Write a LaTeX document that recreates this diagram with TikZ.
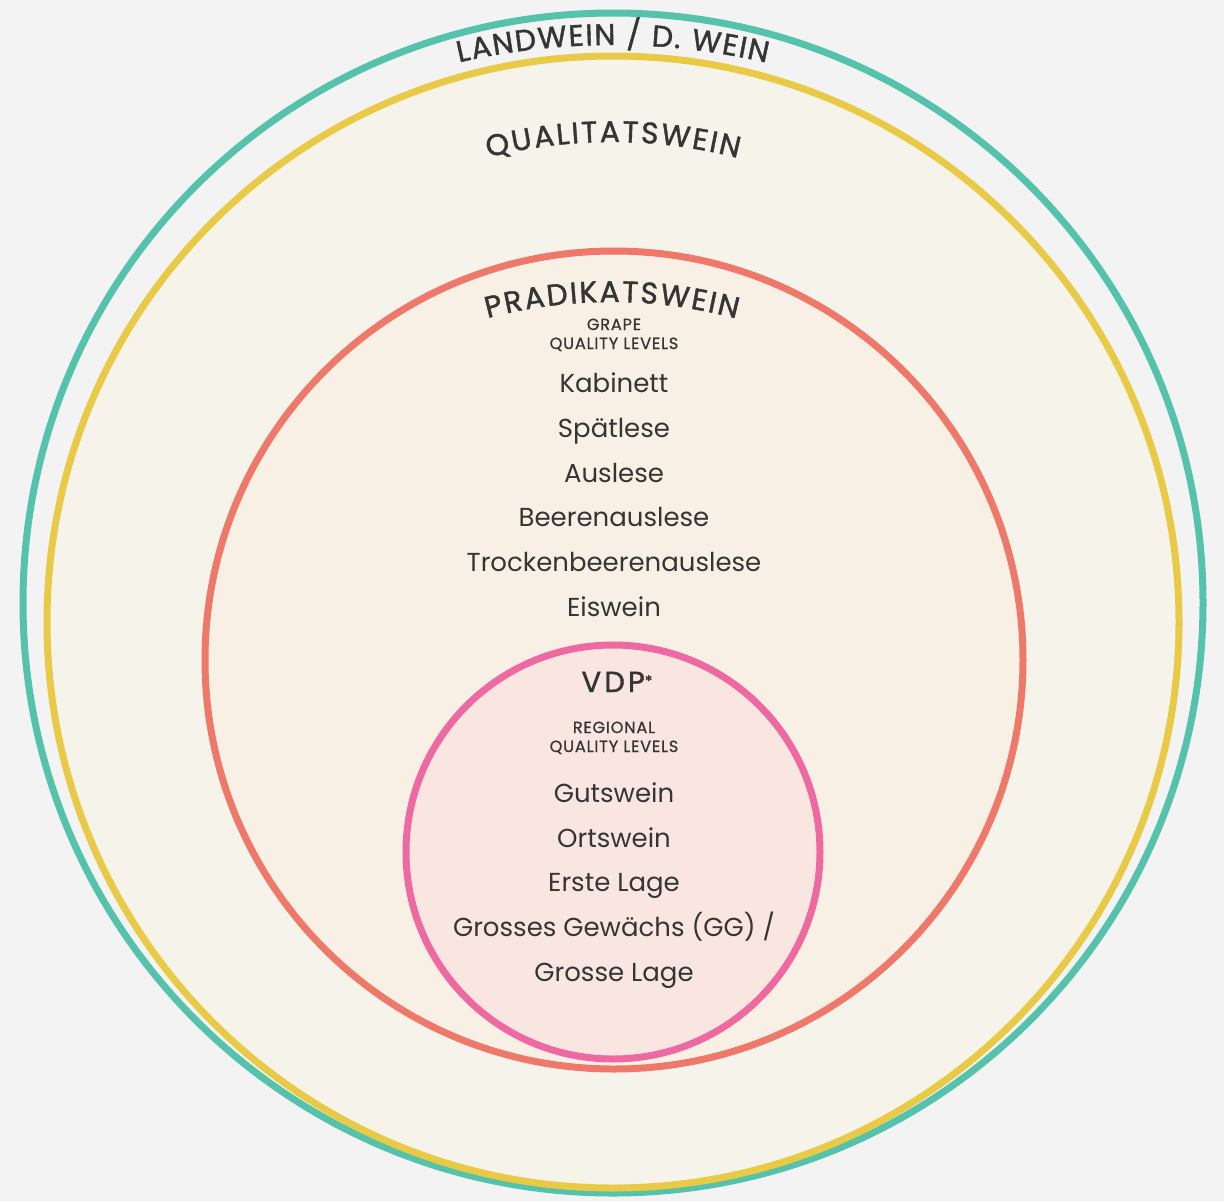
\documentclass[tikz,border=0pt]{standalone}
\usepackage{fontspec}
\setmainfont{Poppins}
\newfontfamily\titlefont[FakeBold=1.3]{Poppins}
\newfontfamily\tagfont[LetterSpace=5,FakeBold=0.8]{Poppins}
\usetikzlibrary{decorations.text}
\definecolor{bggray}{HTML}{F3F3F3}
\definecolor{ringteal}{HTML}{55C2AC}
\definecolor{ringyellow}{HTML}{E8CA46}
\definecolor{ringred}{HTML}{EE786A}
\definecolor{ringpink}{HTML}{EE69A1}
\definecolor{fillcream}{HTML}{F6F4EA}
\definecolor{fillpeach}{HTML}{F8F0E4}
\definecolor{fillrose}{HTML}{F9E6E0}
\definecolor{txtgray}{HTML}{353535}

\begin{document}
\begin{tikzpicture}[x=0.02cm, y=0.02cm]
	\tikzstyle{every node}=[align=center, inner sep=1pt, text=txtgray, anchor=base]
	\tikzstyle{ring}=[line width=0.14cm]
	\tikzstyle{level}=[font=\fontsize{14.8}{17}\selectfont]
	\tikzstyle{tag}=[font=\tagfont\fontsize{9.2}{10.8}\selectfont]
	\tikzstyle{arctitle}=[decorate, decoration={text along path, text align=center, text color=txtgray}]

	\useasboundingbox[fill=bggray] (0,0) rectangle (1224,-1201);

	\draw[ring, draw=ringteal] (613,-603) circle (590);
	\filldraw[ring, draw=ringyellow, fill=fillcream] (613,-622) circle (566);
	\filldraw[ring, draw=ringred, fill=fillpeach] (614,-660) circle (409);
	\filldraw[ring, draw=ringpink, fill=fillrose] (613,-852) circle (207);

	\path[arctitle, decoration={text={|\titlefont\fontsize{17}{18}\selectfont\kern0.8pt|LANDWEIN / D. WEIN}}]
		(612,-725) ++(130:680) arc (130:50:680);
	\path[arctitle, decoration={text={|\titlefont\fontsize{17}{18}\selectfont\kern1.2pt|QUALITATSWEIN}}]
		(612,-642) ++(130:500) arc (130:50:500);
	\path[arctitle, decoration={text={|\titlefont\fontsize{17}{18}\selectfont\kern1.1pt|PRADIKATSWEIN}}]
		(611,-782) ++(130:480) arc (130:50:480);

	\node[tag] (grape) at (614,-349) {GRAPE\\QUALITY LEVELS};
	\node[level] (kab) at (614,-392) {Kabinett};
	\node[level] (spat) at (614,-437) {Spätlese};
	\node[level] (ausl) at (614,-482) {Auslese};
	\node[level] (beer) at (614,-526) {Beerenauslese};
	\node[level] (tba) at (614,-571) {Trockenbeerenauslese};
	\node[level] (eis) at (614,-616) {Eiswein};

	\node[font=\titlefont\fontsize{16.5}{18}\selectfont] (vdp) at (617,-692) {V\kern1.8pt D\kern1.8pt P\raisebox{3pt}{\fontsize{9}{9}\selectfont*}};
	\node[tag] (regional) at (614,-752) {REGIONAL\\QUALITY LEVELS};
	\node[level] (guts) at (614,-802) {Gutswein};
	\node[level] (orts) at (614,-847) {Ortswein};
	\node[level] (erste) at (614,-891) {Erste Lage};
	\node[level] (gg) at (614,-936) {Grosses Gewächs (GG) /};
	\node[level] (grosse) at (614,-981) {Grosse Lage};
\end{tikzpicture}
\end{document}
